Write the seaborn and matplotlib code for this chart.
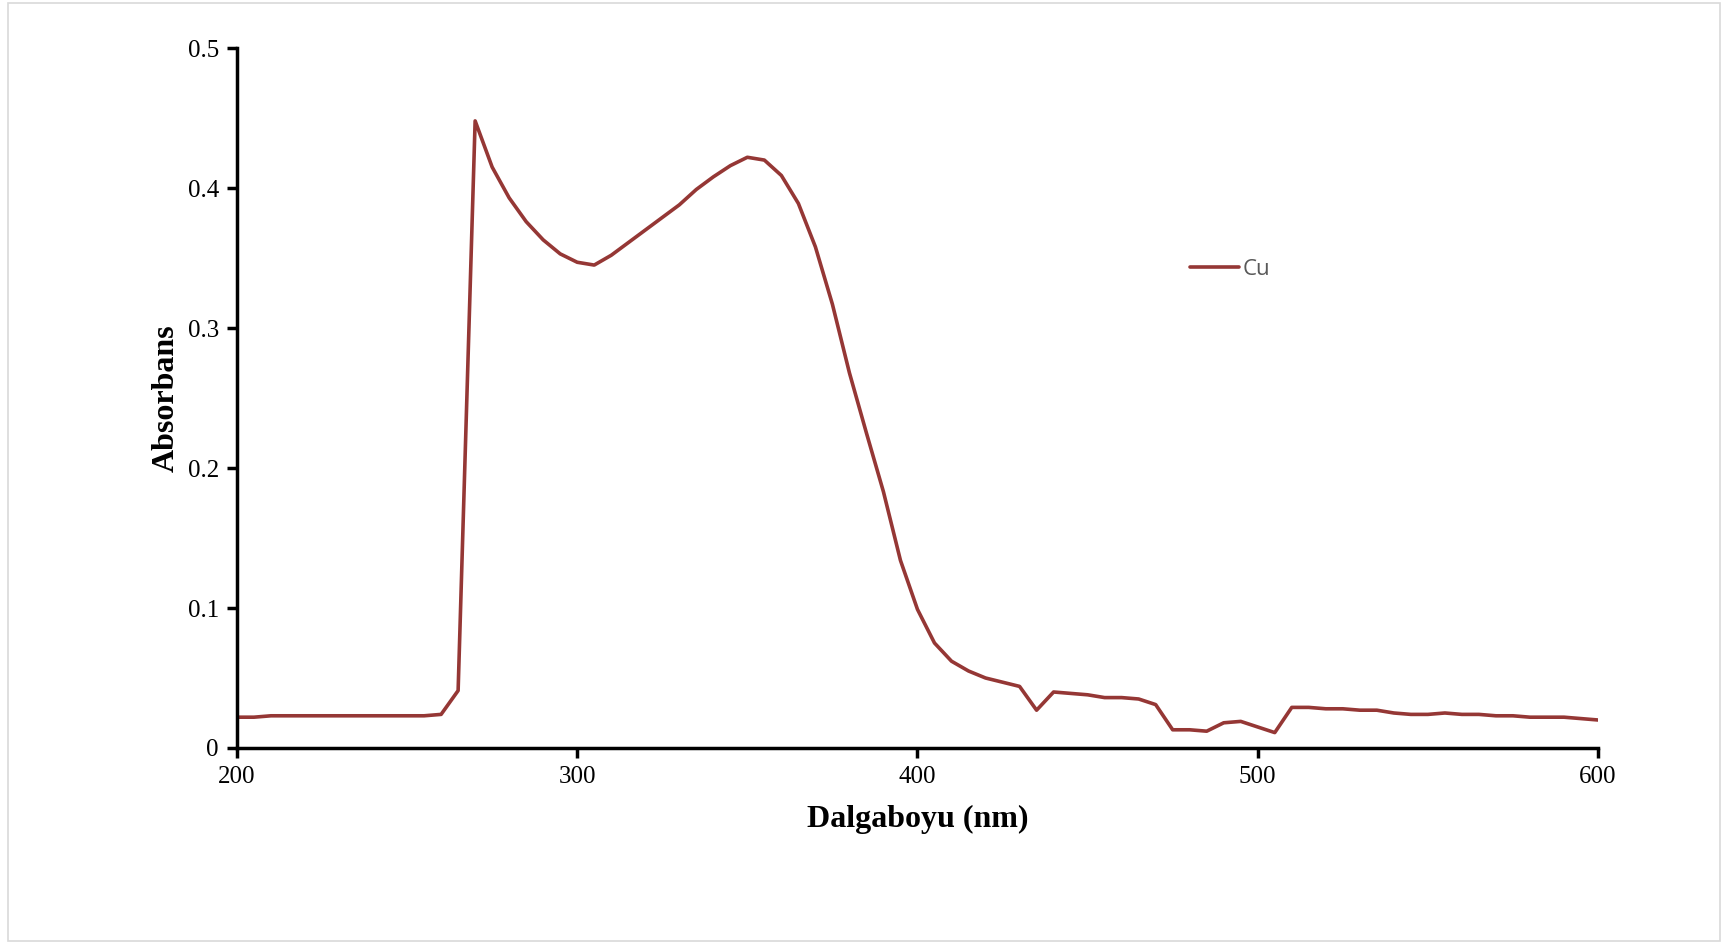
import numpy as np
import pandas as pd
import matplotlib
matplotlib.use("Agg")
import matplotlib.pyplot as plt
import seaborn as sns
from matplotlib.patches import Rectangle

wavelength = list(range(200, 605, 5))
absorbance = [
    0.022, 0.022, 0.023, 0.023, 0.023, 0.023, 0.023, 0.023, 0.023, 0.023,
    0.023, 0.023, 0.024, 0.041, 0.448, 0.415, 0.393, 0.376, 0.363, 0.353,
    0.347, 0.345, 0.352, 0.361, 0.370, 0.379, 0.388, 0.399, 0.408, 0.416,
    0.422, 0.420, 0.409, 0.389, 0.358, 0.317, 0.268, 0.225, 0.183, 0.134,
    0.099, 0.075, 0.062, 0.055, 0.050, 0.047, 0.044, 0.027, 0.040, 0.039,
    0.038, 0.036, 0.036, 0.035, 0.031, 0.013, 0.013, 0.012, 0.018, 0.019,
    0.015, 0.011, 0.029, 0.029, 0.028, 0.028, 0.027, 0.027, 0.025, 0.024,
    0.024, 0.025, 0.024, 0.024, 0.023, 0.023, 0.022, 0.022, 0.022, 0.021,
    0.020,
]
series_name = "Cu"
x_ticks = [200, 300, 400, 500, 600]
y_ticks = [0, 0.1, 0.2, 0.3, 0.4, 0.5]
y_tick_labels = ["0", "0.1", "0.2", "0.3", "0.4", "0.5"]

df = pd.DataFrame({"Dalgaboyu": wavelength, "Absorbans": absorbance, "Seri": series_name})

sns.set_theme(style="white")
plt.rcParams["font.family"] = ["Liberation Serif", "DejaVu Serif"]

fig = plt.figure(figsize=(17.22, 9.43), dpi=100)
ax = fig.add_axes([0.1376, 0.2068, 0.928 - 0.1376, 0.949 - 0.2068])

sns.lineplot(data=df, x="Dalgaboyu", y="Absorbans", hue="Seri",
             palette=["#953735"], linewidth=2.6, ax=ax)

ax.set_xlim(200, 600)
ax.set_ylim(0, 0.5)
ax.set_xticks(x_ticks)
ax.set_xticklabels([str(t) for t in x_ticks])
ax.set_yticks(y_ticks)
ax.set_yticklabels(y_tick_labels)

for s in ["top", "right"]:
    ax.spines[s].set_visible(False)
for s in ["left", "bottom"]:
    ax.spines[s].set_color("black")
    ax.spines[s].set_linewidth(2.5)

ax.tick_params(axis="both", which="major", direction="out", length=7, width=2.5,
               color="black", labelsize=18, labelcolor="black", pad=6)
ax.tick_params(axis="x", bottom=True)
ax.tick_params(axis="y", left=True)

ax.set_xlabel("Dalgaboyu (nm)", fontsize=23, fontweight="bold", color="black", labelpad=12)
ax.set_ylabel("Absorbans", fontsize=23, fontweight="bold", color="black", labelpad=5)

leg = ax.legend(loc="center left", bbox_to_anchor=(0.70, 0.684), frameon=False,
                borderaxespad=0, borderpad=0,
                handlelength=2.2, handletextpad=0.2,
                prop={"family": ["Open Sans", "DejaVu Sans"], "size": 16})
for t in leg.get_texts():
    t.set_color("#595959")
for h in leg.get_lines():
    h.set_linewidth(2.6)

fig.patches.append(Rectangle((0.0046, 0.002), 0.9945, 0.995, transform=fig.transFigure,
                             fill=False, edgecolor="#d9d9d9", linewidth=1.2))

fig.savefig("out.png", dpi=100)
